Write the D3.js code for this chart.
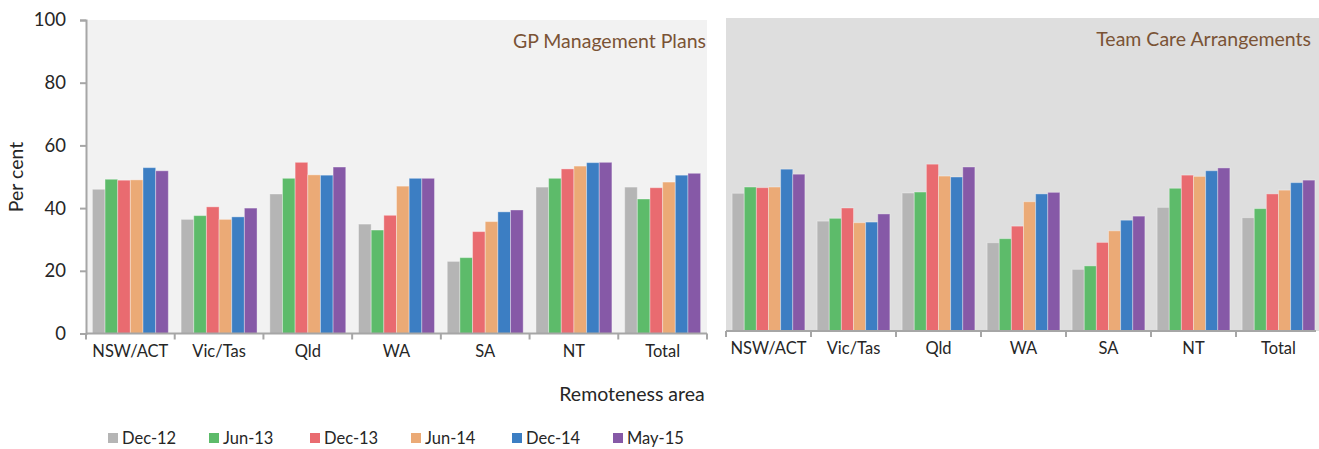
<!DOCTYPE html>
<html>
<head>
<meta charset="utf-8">
<script src="https://cdn.jsdelivr.net/npm/d3@7"></script>
<style>
  html, body { margin: 0; padding: 0; background: #ffffff; }
  svg { display: block; }
  text { font-family: Lato, "Open Sans", sans-serif; fill: #262626; }
</style>
</head>
<body>
<svg id="chart" width="1319" height="449"></svg>
<script>
// Categories and series
const categories = ["NSW/ACT", "Vic/Tas", "Qld", "WA", "SA", "NT", "Total"];
const seriesNames = ["Dec-12", "Jun-13", "Dec-13", "Jun-14", "Dec-14", "May-15"];
const seriesColors = ["#b5b5b5", "#5dbb6a", "#e96b70", "#ebaa76", "#3c7ec3", "#8659a7"];
const yTicks = [0, 20, 40, 60, 80, 100];

// GP Management Plans (per cent), one array per period
const gpmpDec12 = [46.0, 36.4, 44.5, 34.9, 23.0, 46.7, 46.7];
const gpmpJun13 = [49.2, 37.6, 49.5, 33.0, 24.2, 49.5, 42.9];
const gpmpDec13 = [48.9, 40.4, 54.6, 37.7, 32.5, 52.5, 46.5];
const gpmpJun14 = [49.0, 36.4, 50.6, 47.0, 35.7, 53.4, 48.3];
const gpmpDec14 = [52.9, 37.2, 50.5, 49.5, 38.8, 54.5, 50.5];
const gpmpMay15 = [51.9, 40.0, 53.1, 49.5, 39.4, 54.6, 51.1];

// Team Care Arrangements (per cent), one array per period
const tcaDec12 = [44.0, 35.1, 44.1, 28.2, 19.7, 39.5, 36.2];
const tcaJun13 = [46.0, 36.0, 44.4, 29.5, 20.8, 45.6, 39.1];
const tcaDec13 = [45.8, 39.3, 53.3, 33.5, 28.3, 49.8, 43.8];
const tcaJun14 = [46.0, 34.6, 49.5, 41.3, 32.0, 49.4, 45.0];
const tcaDec14 = [51.7, 34.8, 49.2, 43.8, 35.4, 51.2, 47.4];
const tcaMay15 = [50.1, 37.4, 52.4, 44.3, 36.7, 52.1, 48.2];

const gpmpSeries = [gpmpDec12, gpmpJun13, gpmpDec13, gpmpJun14, gpmpDec14, gpmpMay15];
const tcaSeries = [tcaDec12, tcaJun13, tcaDec13, tcaJun14, tcaDec14, tcaMay15];

const svg = d3.select("#chart");
const axisColor = "#a6a6a6";

function drawPanel(cfg) {
  const g = svg.append("g");
  const x = d3.scaleBand().domain(categories).range([cfg.x0, cfg.x1]).padding(0);
  const y = d3.scaleLinear().domain([0, 100]).range([cfg.yBottom, cfg.yTop]);
  const pad = x.bandwidth() * 0.072;
  const xs = d3.scaleBand().domain(seriesNames).range([pad, x.bandwidth() - pad]).padding(0);

  // plot area background
  g.append("rect")
    .attr("x", cfg.x0).attr("y", cfg.yTop)
    .attr("width", cfg.bgRight - cfg.x0).attr("height", cfg.yBottom - cfg.yTop)
    .attr("fill", cfg.bg);

  // bars
  const rows = [];
  cfg.series.forEach((vals, si) => {
    vals.forEach((v, ci) => rows.push({ cat: categories[ci], s: seriesNames[si], si, v }));
  });
  g.append("g").selectAll("rect").data(rows).join("rect")
    .attr("x", d => x(d.cat) + xs(d.s))
    .attr("y", d => y(d.v))
    .attr("width", xs.bandwidth())
    .attr("height", d => y(0) - y(d.v))
    .attr("fill", d => seriesColors[d.si])
    .attr("stroke", "rgba(255,255,255,0.35)")
    .attr("stroke-width", 1);

  // category axis with boundary ticks
  const xAxis = g.append("g");
  xAxis.append("line")
    .attr("x1", cfg.x0).attr("x2", cfg.axisRight)
    .attr("y1", cfg.yBottom).attr("y2", cfg.yBottom)
    .attr("stroke", axisColor).attr("stroke-width", 2);
  const bounds = categories.map(c => x(c)).concat([cfg.x1]).filter(v => v <= 1319);
  xAxis.selectAll("line.tick").data(bounds).join("line")
    .attr("class", "tick")
    .attr("x1", d => d).attr("x2", d => d)
    .attr("y1", cfg.yBottom).attr("y2", cfg.yBottom + 6)
    .attr("stroke", axisColor).attr("stroke-width", 2);
  xAxis.selectAll("text").data(categories).join("text")
    .attr("x", d => x(d) + x.bandwidth() / 2)
    .attr("y", cfg.yBottom + 17)
    .attr("text-anchor", "middle")
    .attr("dominant-baseline", "central")
    .style("font-size", "16.5px")
    .text(d => d);

  if (cfg.showY) {
    const yAxis = g.append("g")
      .attr("transform", `translate(${cfg.x0},0)`)
      .call(d3.axisLeft(y).tickValues(yTicks).tickSize(6).tickPadding(14).tickFormat(d3.format("d")));
    yAxis.select(".domain").attr("stroke", axisColor).attr("stroke-width", 2);
    yAxis.selectAll(".tick line").attr("stroke", axisColor).attr("stroke-width", 2);
    yAxis.selectAll(".tick text")
      .style("font-family", "Lato, 'Open Sans', sans-serif")
      .style("font-size", "18.5px")
      .attr("fill", "#262626");
  }

  // panel title
  g.append("text")
    .attr("x", cfg.titleRight).attr("y", cfg.yTop + 20)
    .attr("text-anchor", "end")
    .attr("dominant-baseline", "central")
    .style("font-size", "19.5px")
    .style("fill", "#7a5335")
    .text(cfg.title);
}

drawPanel({
  x0: 86, x1: 707, bgRight: 707, axisRight: 707,
  yTop: 20, yBottom: 333.5,
  bg: "#f2f2f2", series: gpmpSeries, showY: true,
  title: "GP Management Plans", titleRight: 706
});

drawPanel({
  x0: 726, x1: 1321, bgRight: 1319, axisRight: 1316,
  yTop: 18, yBottom: 331,
  bg: "#dedede", series: tcaSeries, showY: false,
  title: "Team Care Arrangements", titleRight: 1311
});

// axis titles
svg.append("text")
  .attr("transform", "translate(15,177) rotate(-90)")
  .attr("text-anchor", "middle")
  .attr("dominant-baseline", "central")
  .style("font-size", "19.5px")
  .text("Per cent");

svg.append("text")
  .attr("x", 632).attr("y", 393)
  .attr("text-anchor", "middle")
  .attr("dominant-baseline", "central")
  .style("font-size", "19.5px")
  .text("Remoteness area");

// legend
const legend = svg.append("g");
const legendX = d3.scalePoint().domain(seriesNames).range([108, 613]);
const items = legend.selectAll("g").data(seriesNames).join("g")
  .attr("transform", d => `translate(${legendX(d)},438)`);
items.append("rect")
  .attr("x", 0).attr("y", -5).attr("width", 10).attr("height", 10)
  .attr("fill", (d, i) => seriesColors[i]);
items.append("text")
  .attr("x", 14).attr("y", 0)
  .attr("dominant-baseline", "central")
  .style("font-size", "16.5px")
  .text(d => d);
</script>
</body>
</html>
